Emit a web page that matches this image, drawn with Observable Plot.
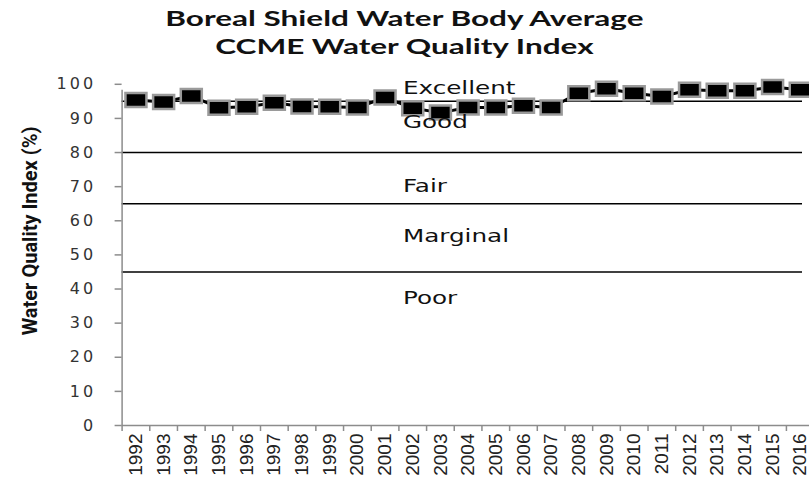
<!DOCTYPE html>
<html>
<head>
<meta charset="utf-8">
<script src="https://cdn.jsdelivr.net/npm/d3@7"></script>
<script src="https://cdn.jsdelivr.net/npm/@observablehq/plot@0.6"></script>
<style>
  html, body { margin: 0; padding: 0; background: #fff; width: 809px; height: 479px; overflow: hidden; }
  #title { height: 70px; box-sizing: border-box; padding-top: 4px; text-align: center; width: 809px; }
  #title span { display: inline-block; transform: scaleX(1.5); transform-origin: center; font-family: Lato, "Open Sans", sans-serif; font-weight: bold; font-size: 21px; line-height: 28px; color: #111; white-space: nowrap; }
  #chart svg { display: block; }
  #chart g[aria-label="y-axis tick label"] text { letter-spacing: 3px; }
</style>
</head>
<body>
<div id="title"><span>Boreal Shield Water Body Average<br>CCME Water Quality Index</span></div>
<div id="chart"></div>
<script>
const years = [1992, 1993, 1994, 1995, 1996, 1997, 1998, 1999, 2000, 2001, 2002, 2003, 2004,
               2005, 2006, 2007, 2008, 2009, 2010, 2011, 2012, 2013, 2014, 2015, 2016];
const wqi = [95.4, 94.8, 96.6, 93.1, 93.4, 94.6, 93.5, 93.4, 93.2, 96.1, 93.0, 91.7, 93.2,
             93.2, 93.7, 93.2, 97.4, 98.7, 97.4, 96.4, 98.4, 98.1, 98.1, 99.2, 98.4];
const thresholds = [95, 80, 65, 45];
const categories = ["Excellent", "Good", "Fair", "Marginal", "Poor"];
const categoryY = [98.7, 88.7, 70, 55.3, 37.2];
const categoryX = 2001.5;
const yTicks = [0, 10, 20, 30, 40, 50, 60, 70, 80, 90, 100];
const yLabel = "Water Quality Index (%)";

const data = years.map((year, i) => ({year, wqi: wqi[i]}));
const labels = categories.map((name, i) => ({name, y: categoryY[i]}));
const boundaries = years.map(y => y - 0.5).concat([years[years.length - 1] + 0.5]);

const rectSymbol = {
  draw(context, size) {
    const r = Math.sqrt(size / Math.PI);
    context.rect(-r * 1.5, -r * 1.0, r * 3.0, r * 2.0);
  }
};

const axisGray = "#8c8c8c";

const plot = Plot.plot({
  width: 809,
  height: 409,
  marginLeft: 121.6,
  marginRight: -4.6,
  marginTop: 13.8,
  marginBottom: 54,
  x: {type: "linear", domain: [boundaries[0], boundaries[boundaries.length - 1]]},
  y: {domain: [0, 100]},
  marks: [
    Plot.ruleY(thresholds, {stroke: "black", strokeWidth: 1.5, insetRight: 11.6}),
    Plot.ruleY([0], {stroke: axisGray, strokeWidth: 1.5}),
    Plot.ruleX([boundaries[0]], {y1: 0, y2: 100, stroke: axisGray, strokeWidth: 1.5, insetBottom: -6}),
    Plot.axisY({ticks: yTicks, tickSize: 7, tickPadding: 19, stroke: axisGray, strokeWidth: 1.5,
                fontSize: 16, fontFamily: "DejaVu Sans, Verdana, sans-serif", fill: "#333", label: null}),
    Plot.axisX({ticks: boundaries, tickSize: 6, stroke: axisGray, strokeWidth: 1.5, tickFormat: () => "", label: null}),
    Plot.axisX({ticks: years, tickSize: 0, tickPadding: 8, tickRotate: -90, tickFormat: "d",
                fontSize: 19, fontFamily: "Liberation Sans, Arial, sans-serif", fill: "#222", label: null}),
    Plot.line(data, {x: "year", y: "wqi", stroke: "black", strokeWidth: 3}),
    Plot.dot(data, {x: "year", y: "wqi", symbol: rectSymbol, r: 7, fill: "black", stroke: "#9a9a9a", strokeWidth: 2.5}),
    Plot.text(labels, {x: categoryX, y: "y", text: "name", textAnchor: "start", dx: 4,
                       fontSize: 17, fontFamily: "DejaVu Sans, Verdana, sans-serif", fill: "#111"}),
    Plot.text([yLabel], {frameAnchor: "left", textAnchor: "middle", dx: -92, dy: -24, rotate: -90,
                         fontSize: 20, fontWeight: "bold",
                         fontFamily: "Roboto, Liberation Sans, sans-serif", fill: "#111"})
  ]
});
document.getElementById("chart").append(plot);

// widen the band labels' glyphs horizontally to mimic the stretched original
plot.querySelectorAll("text").forEach(t => {
  if (categories.includes(t.textContent)) {
    const len = t.getComputedTextLength();
    t.setAttribute("textLength", len * 1.45);
    t.setAttribute("lengthAdjust", "spacingAndGlyphs");
  }
});
</script>
</body>
</html>
